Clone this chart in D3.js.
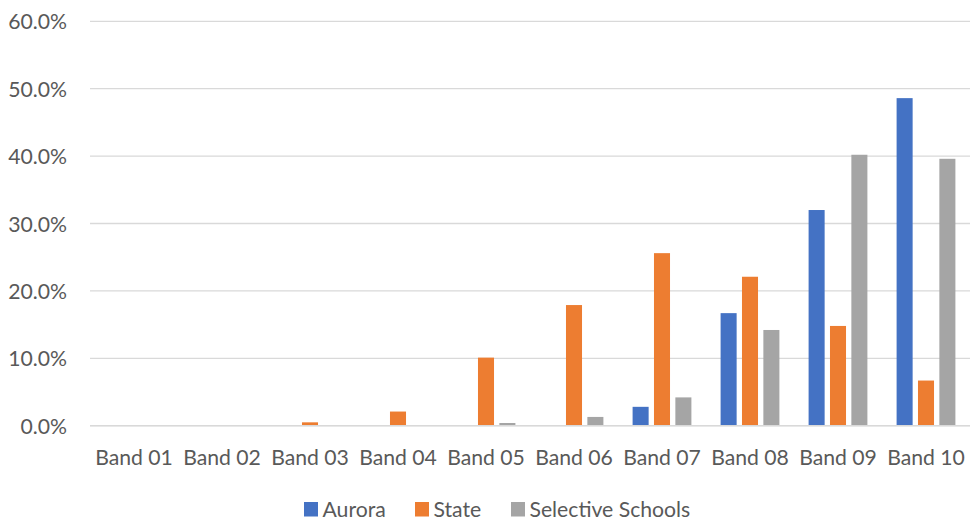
<!DOCTYPE html>
<html>
<head>
<meta charset="utf-8">
<script src="https://cdn.jsdelivr.net/npm/d3@7"></script>
<style>
  html, body { margin: 0; padding: 0; background: #fff; }
  svg { display: block; }
  text { font-family: Lato, "Open Sans", sans-serif; fill: #595959; }
</style>
</head>
<body>
<svg id="chart" width="971" height="524"></svg>
<script>
// Share of students in each band, by group
const bands = ["Band 01", "Band 02", "Band 03", "Band 04", "Band 05",
               "Band 06", "Band 07", "Band 08", "Band 09", "Band 10"];
const seriesNames = ["Aurora", "State", "Selective Schools"];
const aurora    = [0, 0, 0, 0, 0, 0, 2.8, 16.7, 32.0, 48.6];
const state     = [0, 0, 0.5, 2.1, 10.1, 17.9, 25.6, 22.1, 14.8, 6.7];
const selective = [0, 0, 0, 0, 0.4, 1.3, 4.2, 14.2, 40.2, 39.6];
const yTicks = [0, 10, 20, 30, 40, 50, 60];
const colors = ["#4472C4", "#ED7D31", "#A5A5A5"];

const seriesValues = [aurora, state, selective];
const fontSize = "21.2px";

const svg = d3.select("#chart");
const plot = { left: 90, right: 970, top: 21.3, bottom: 425.7 };

const x = d3.scaleBand().domain(bands).range([plot.left, plot.right]).padding(0);
const y = d3.scaleLinear().domain([0, 60]).range([plot.bottom, plot.top]);

// three bars per band, clustered around the band centre
const inner = d3.scaleBand().domain(seriesNames)
  .range([x.bandwidth() / 2 - 29.4, x.bandwidth() / 2 + 29.4])
  .paddingInner(0.25).paddingOuter(0);

// horizontal gridlines
svg.append("g")
  .selectAll("line")
  .data(yTicks)
  .join("line")
  .attr("x1", plot.left).attr("x2", plot.right)
  .attr("y1", d => y(d)).attr("y2", d => y(d))
  .attr("stroke", "#D9D9D9")
  .attr("stroke-width", 1.3);

// y axis labels
const yAxis = d3.axisLeft(y).tickValues(yTicks)
  .tickFormat(d => d3.format(".1f")(d) + "%").tickSize(0).tickPadding(23);
const gy = svg.append("g").attr("transform", `translate(${plot.left},0)`).call(yAxis);
gy.select(".domain").remove();
gy.selectAll("text").style("font-size", fontSize).attr("fill", "#595959").attr("dy", "0.36em");

// bars
const groups = svg.append("g")
  .selectAll("g")
  .data(bands)
  .join("g")
  .attr("transform", d => `translate(${x(d)},0)`);

groups.selectAll("rect")
  .data((d, i) => seriesNames.map((s, k) => ({ series: s, k, value: seriesValues[k][i] })))
  .join("rect")
  .filter(d => d.value > 0)
  .attr("x", d => inner(d.series))
  .attr("width", inner.bandwidth())
  .attr("y", d => y(d.value))
  .attr("height", d => y(0) - y(d.value))
  .attr("fill", d => colors[d.k]);

// baseline drawn over the bars
svg.append("line")
  .attr("x1", plot.left).attr("x2", plot.right)
  .attr("y1", y(0)).attr("y2", y(0))
  .attr("stroke", "#D9D9D9").attr("stroke-width", 1.5);

// x axis labels
const xAxis = d3.axisBottom(x).tickSize(0);
const gx = svg.append("g").attr("transform", `translate(0,${plot.bottom})`).call(xAxis);
gx.select(".domain").remove();
gx.selectAll("text").style("font-size", fontSize).attr("fill", "#595959")
  .attr("y", 39.5).attr("dy", 0);

// legend
const legendItems = [
  { name: seriesNames[0], color: colors[0], x: 304 },
  { name: seriesNames[1], color: colors[1], x: 415 },
  { name: seriesNames[2], color: colors[2], x: 511 }
];
const legend = svg.append("g");
const li = legend.selectAll("g").data(legendItems).join("g")
  .attr("transform", d => `translate(${d.x},502)`);
li.append("rect").attr("width", 14).attr("height", 14.5).attr("fill", d => d.color);
li.append("text").attr("x", 18.5).attr("y", 14.5)
  .style("font-size", fontSize).text(d => d.name);
</script>
</body>
</html>
